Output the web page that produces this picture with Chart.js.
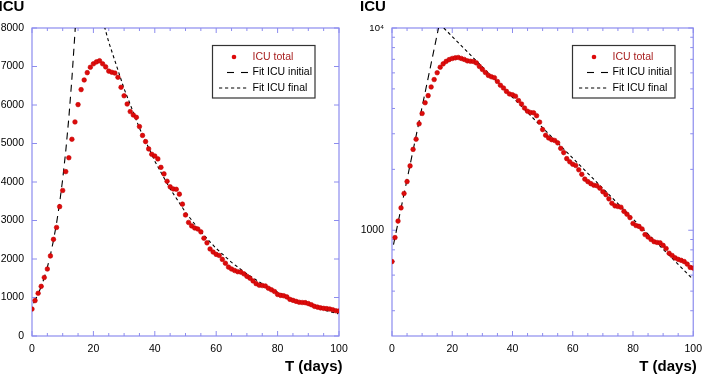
<!DOCTYPE html>
<html><head><meta charset="utf-8">
<script src="https://cdn.jsdelivr.net/npm/chart.js@4/dist/chart.umd.min.js"></script>
<style>
html,body{margin:0;padding:0;background:#fff;overflow:hidden}
#w{position:relative;width:709px;height:374px}
canvas{position:absolute;top:0}
#c1{left:0}
#c2{left:355px}
</style></head><body>
<div id="w"><canvas id="c1" width="355" height="374"></canvas><canvas id="c2" width="354" height="374"></canvas></div>
<script>
// ---- data ----
const days = [0,1,2,3,4,5,6,7,8,9,10,11,12,13,14,15,16,17,18,19,20,21,22,23,24,25,26,27,28,29,30,31,32,33,34,35,36,37,38,39,40,41,42,43,44,45,46,47,48,49,50,51,52,53,54,55,56,57,58,59,60,61,62,63,64,65,66,67,68,69,70,71,72,73,74,75,76,77,78,79,80,81,82,83,84,85,86,87,88,89,90,91,92,93,94,95,96,97,98,99,100];
const icuTotal = [700,920,1110,1290,1520,1740,2080,2510,2820,3360,3780,4270,4630,5110,5560,6010,6400,6650,6840,6980,7070,7120,7150,7070,6990,6880,6850,6830,6720,6460,6240,6025,5830,5740,5680,5440,5210,5050,4860,4720,4675,4600,4380,4210,4020,3875,3820,3810,3685,3425,3145,2950,2860,2805,2780,2705,2540,2420,2260,2180,2120,2090,1990,1890,1790,1740,1700,1670,1660,1615,1550,1500,1430,1360,1320,1310,1300,1240,1200,1155,1080,1055,1045,1015,952,926,900,878,870,866,842,812,770,750,730,718,710,700,680,655,650];
const fitInitialT = [0.5,1,2,3,4,5,6,7,8,9,10,11,12,13,14,15,15.44];
const fitInitialV = [850,923,1089,1284,1514,1786,2106,2484,2930,3456,4076,4807,5669,6687,7886,9301,10000];
const fitFinalT = [17.2,20,25,30,35,40,45,50,55,60,65,70,75,80,85,90,95,99.7];
const fitFinalV = [10000,9078,7634,6421,5401,4543,3821,3214,2703,2274,1913,1609,1353,1138,957,806,678,576];
const seriesNames = ['ICU total','Fit ICU initial','Fit ICU final'];
const xTickLabels = [0,20,40,60,80,100];
const xMinorTicks = [0,5,10,15,20,25,30,35,40,45,50,55,60,65,70,75,80,85,90,95,100];
const yLinTickLabels = [0,1000,2000,3000,4000,5000,6000,7000,8000];
const yLogTickLabels = [1000,10000];
const yLogMinorTicks = [400,500,600,700,800,900,2000,3000,4000,5000,6000,7000,8000,9000];
const yAxisTitle = 'ICU';
const xAxisTitle = 'T (days)';

const FONT = "'Liberation Sans', Arial, sans-serif";
const AXIS = 'rgb(140,140,238)';

function pts(xs, ys){ return xs.map((x,i)=>({x:x, y:ys[i]})); }

function datasets(){
  return [
    {label:seriesNames[0], data:pts(days,icuTotal), showLine:false, pointRadius:2.3, pointHoverRadius:2.3,
     backgroundColor:'#dd0b0b', borderColor:'#c40000', borderWidth:0.6, order:0},
    {label:seriesNames[1], data:pts(fitInitialT,fitInitialV), showLine:true, pointRadius:0, borderColor:'#000',
     borderWidth:1.1, borderDash:[7,5], fill:false, order:1},
    {label:seriesNames[2], data:pts(fitFinalT,fitFinalV), showLine:true, pointRadius:0, borderColor:'#000',
     borderWidth:1.1, borderDash:[3.2,2.8], fill:false, order:2}
  ];
}

const decoPlugin = {
  id:'deco',
  beforeDatasetsDraw(chart, args, o){
    const {ctx, chartArea:a, scales:{x,y}} = chart;
    ctx.save();
    ctx.strokeStyle = AXIS; ctx.lineWidth = 1.2;
    ctx.strokeRect(a.left, a.top, a.right-a.left, a.bottom-a.top);
    ctx.lineWidth = 1;
    ctx.beginPath();
    xMinorTicks.forEach(v=>{
      const px = x.getPixelForValue(v);
      const L = (v%20===0) ? 5 : 3;
      ctx.moveTo(px, a.bottom); ctx.lineTo(px, a.bottom-L);
      ctx.moveTo(px, a.top); ctx.lineTo(px, a.top+L);
    });
    o.yMajor.forEach(v=>{
      const py = y.getPixelForValue(v);
      ctx.moveTo(a.left, py); ctx.lineTo(a.left+5, py);
      ctx.moveTo(a.right, py); ctx.lineTo(a.right-5, py);
    });
    (o.yMinor||[]).forEach(v=>{
      const py = y.getPixelForValue(v);
      ctx.moveTo(a.left, py); ctx.lineTo(a.left+3, py);
      ctx.moveTo(a.right, py); ctx.lineTo(a.right-3, py);
    });
    ctx.stroke();
    ctx.restore();
  },
  afterDraw(chart, args, o){
    const {ctx, chartArea:a} = chart;
    const ds = chart.data.datasets;
    ctx.save();
    ctx.fillStyle = '#000';
    ctx.font = 'bold 15px ' + FONT;
    ctx.textBaseline = 'alphabetic';
    ctx.textAlign = 'left';
    ctx.fillText(yAxisTitle, a.left - o.yTitleDx, 11);
    ctx.textAlign = 'right';
    ctx.fillText(xAxisTitle, a.right + 3.5, 370.5);
    // legend box
    const bx = a.left + 180.5, by = 45.5, bw = 102.5, bh = 52.5;
    ctx.fillStyle = '#fff';
    ctx.fillRect(bx, by, bw, bh);
    ctx.strokeStyle = '#333'; ctx.lineWidth = 1.2;
    ctx.strokeRect(bx, by, bw, bh);
    const rows = [by+11.5, by+27, by+42.5];
    ctx.font = '10.5px ' + FONT;
    ctx.textAlign = 'left'; ctx.textBaseline = 'middle';
    ctx.beginPath();
    ctx.arc(bx+21.5, rows[0], 2.3, 0, Math.PI*2);
    ctx.fillStyle = ds[0].backgroundColor; ctx.fill();
    ctx.fillStyle = '#a82020';
    ctx.fillText(ds[0].label, bx+40, rows[0]);
    ctx.strokeStyle = ds[1].borderColor; ctx.lineWidth = ds[1].borderWidth;
    ctx.setLineDash([7,7]);
    ctx.beginPath(); ctx.moveTo(bx+14.5, rows[1]); ctx.lineTo(bx+35.5, rows[1]); ctx.stroke();
    ctx.fillStyle = '#000';
    ctx.fillText(ds[1].label, bx+40, rows[1]);
    ctx.strokeStyle = ds[2].borderColor; ctx.lineWidth = ds[2].borderWidth;
    ctx.setLineDash(ds[2].borderDash);
    ctx.beginPath(); ctx.moveTo(bx+6.5, rows[2]); ctx.lineTo(bx+36, rows[2]); ctx.stroke();
    ctx.setLineDash([]);
    ctx.fillText(ds[2].label, bx+40, rows[2]);
    ctx.restore();
  }
};

function xScale(){
  return {
    type:'linear', min:0, max:100,
    afterBuildTicks: s => { s.ticks = xTickLabels.map(v=>({value:v})); },
    afterFit: s => { s.height = 38; },
    grid:{display:false, drawTicks:false}, border:{display:false},
    ticks:{font:{family:FONT, size:10.5}, color:'#000', padding:7, maxRotation:0, autoSkip:false,
           callback: v => String(v)}
  };
}

function makeChart(id, yOpts, pad, deco){
  return new Chart(document.getElementById(id), {
    type:'scatter',
    data:{datasets:datasets()},
    options:{
      responsive:false, animation:false, devicePixelRatio:1,
      layout:{padding:pad},
      plugins:{legend:{display:false}, tooltip:{enabled:false}, deco:deco},
      scales:{x:xScale(), y:yOpts}
    },
    plugins:[decoPlugin]
  });
}

makeChart('c1', {
  type:'linear', min:0, max:8000,
  afterBuildTicks: s => { s.ticks = yLinTickLabels.map(v=>({value:v})); },
  afterFit: s => { s.width = 32; },
  grid:{display:false, drawTicks:false}, border:{display:false},
  ticks:{font:{family:FONT, size:10.5}, color:'#000', padding:8, autoSkip:false,
         callback: v => String(v)}
}, {left:0, right:16, top:28, bottom:0}, {yMajor:yLinTickLabels, yMinor:[], yTitleDx:33.5});

makeChart('c2', {
  type:'logarithmic', min:300, max:10000,
  afterBuildTicks: s => { s.ticks = yLogTickLabels.map(v=>({value:v})); },
  afterFit: s => { s.width = 37; },
  grid:{display:false, drawTicks:false}, border:{display:false},
  ticks:{
    font: c => (c.tick && c.tick.value===10000) ? {family:FONT, size:9.5} : {family:FONT, size:10.5},
    color:'#000', padding:8, autoSkip:false,
    callback: v => v===10000 ? '10\u2074' : (v===1000 ? '1000' : '')
  }
}, {left:0, right:10, top:28, bottom:0}, {yMajor:yLogTickLabels, yMinor:yLogMinorTicks, yTitleDx:32});
</script>
</body></html>
